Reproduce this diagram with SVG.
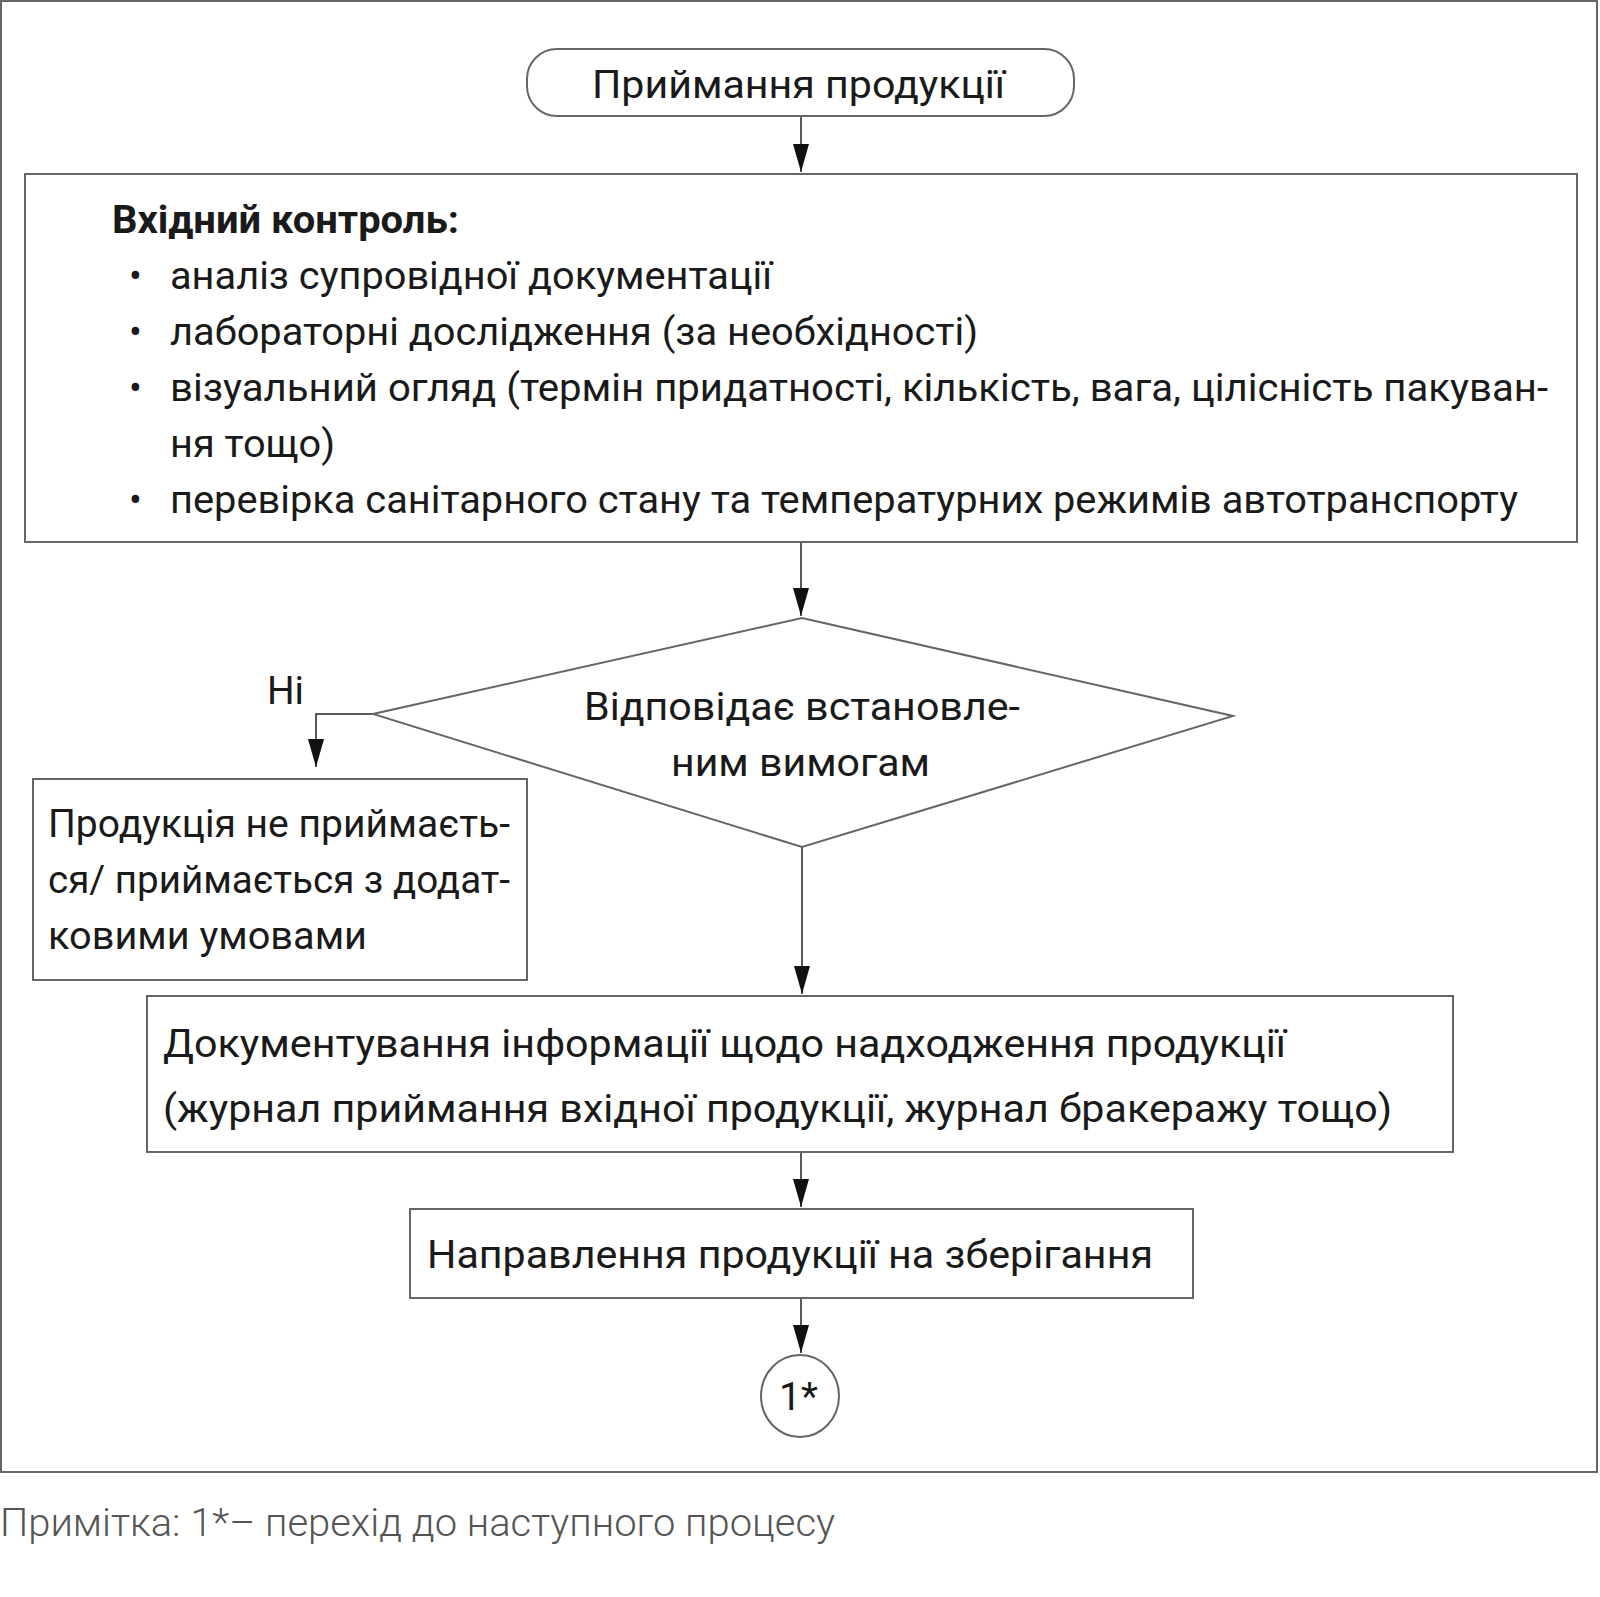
<svg xmlns="http://www.w3.org/2000/svg" width="1600" height="1597" viewBox="0 0 1600 1597">
<style>
.t{font-family:Roboto,"Liberation Sans",sans-serif;font-size:38px;fill:#1a1a1a}
.b{font-weight:bold}
.shape{fill:#fff;stroke:#666;stroke-width:2}
.conn{fill:none;stroke:#222;stroke-width:1.5}
.note{font-family:Roboto,"Liberation Sans",sans-serif;font-size:38px;fill:#555;font-weight:300}
</style>
<defs>
<marker id="ah" viewBox="0 0 28 16" refX="28" refY="8" markerWidth="28" markerHeight="16" markerUnits="userSpaceOnUse" orient="auto">
<path d="M0,0 L28,8 L0,16 Z" fill="#111"/>
</marker>
</defs>
<rect x="1" y="1" width="1596" height="1471" fill="#fff" stroke="#666" stroke-width="2"/>
<g id="connectors">
<line class="conn" x1="801" y1="116" x2="801" y2="172" marker-end="url(#ah)"/>
<line class="conn" x1="801" y1="542" x2="801" y2="616" marker-end="url(#ah)"/>
<polyline class="conn" points="373,714 316,714 316,767" marker-end="url(#ah)"/>
<line class="conn" x1="802" y1="847" x2="802" y2="994" marker-end="url(#ah)"/>
<line class="conn" x1="801" y1="1152" x2="801" y2="1207" marker-end="url(#ah)"/>
<line class="conn" x1="801" y1="1298" x2="801" y2="1353" marker-end="url(#ah)"/>
</g>
<g id="start">
<rect class="shape" x="527" y="49" width="547" height="67" rx="30" ry="30"/>
<text class="t" x="592" y="98" textLength="413" lengthAdjust="spacingAndGlyphs">Приймання продукції</text>
</g>
<g id="control">
<rect class="shape" x="25" y="174" width="1552" height="368"/>
<text class="t b" x="112" y="233" textLength="347" lengthAdjust="spacingAndGlyphs">Вхідний контроль:</text>
<text class="t" x="129" y="289">•</text>
<text class="t" x="170" y="289" textLength="602" lengthAdjust="spacingAndGlyphs">аналіз супровідної документації</text>
<text class="t" x="129" y="345">•</text>
<text class="t" x="170" y="345" textLength="808" lengthAdjust="spacingAndGlyphs">лабораторні дослідження (за необхідності)</text>
<text class="t" x="129" y="401">•</text>
<text class="t" x="170" y="401" textLength="1378" lengthAdjust="spacingAndGlyphs">візуальний огляд (термін придатності, кількість, вага, цілісність пакуван-</text>
<text class="t" x="170" y="457" textLength="165" lengthAdjust="spacingAndGlyphs">ня тощо)</text>
<text class="t" x="129" y="513">•</text>
<text class="t" x="170" y="513" textLength="1348" lengthAdjust="spacingAndGlyphs">перевірка санітарного стану та температурних режимів автотранспорту</text>
</g>
<g id="decision">
<polygon class="shape" points="802,618 1233,716 802,847 373,714"/>
<text class="t" x="584" y="720" textLength="436" lengthAdjust="spacingAndGlyphs">Відповідає встановле-</text>
<text class="t" x="671" y="776" textLength="259" lengthAdjust="spacingAndGlyphs">ним вимогам</text>
</g>
<g id="label-no">
<text class="t" x="267" y="704" textLength="37" lengthAdjust="spacingAndGlyphs">Ні</text>
</g>
<g id="rejected">
<rect class="shape" x="33" y="779" width="494" height="201"/>
<text class="t" x="48" y="837" textLength="462" lengthAdjust="spacingAndGlyphs">Продукція не приймаєть-</text>
<text class="t" x="48" y="893" textLength="462" lengthAdjust="spacingAndGlyphs">ся/ приймається з додат-</text>
<text class="t" x="48" y="949" textLength="319" lengthAdjust="spacingAndGlyphs">ковими умовами</text>
</g>
<g id="document">
<rect class="shape" x="147" y="996" width="1306" height="156"/>
<text class="t" x="163" y="1057" textLength="1123" lengthAdjust="spacingAndGlyphs">Документування інформації щодо надходження продукції</text>
<text class="t" x="163" y="1122" textLength="1229" lengthAdjust="spacingAndGlyphs">(журнал приймання вхідної продукції, журнал бракеражу тощо)</text>
</g>
<g id="storage">
<rect class="shape" x="410" y="1209" width="783" height="89"/>
<text class="t" x="427" y="1268" textLength="726" lengthAdjust="spacingAndGlyphs">Направлення продукції на зберігання</text>
</g>
<g id="next">
<ellipse class="shape" cx="800" cy="1396" rx="39" ry="41"/>
<text class="t" x="779" y="1410" textLength="39" lengthAdjust="spacingAndGlyphs">1*</text>
</g>
<text class="note" x="0" y="1536" textLength="835" lengthAdjust="spacingAndGlyphs">Примітка: 1*– перехід до наступного процесу</text>
</svg>
